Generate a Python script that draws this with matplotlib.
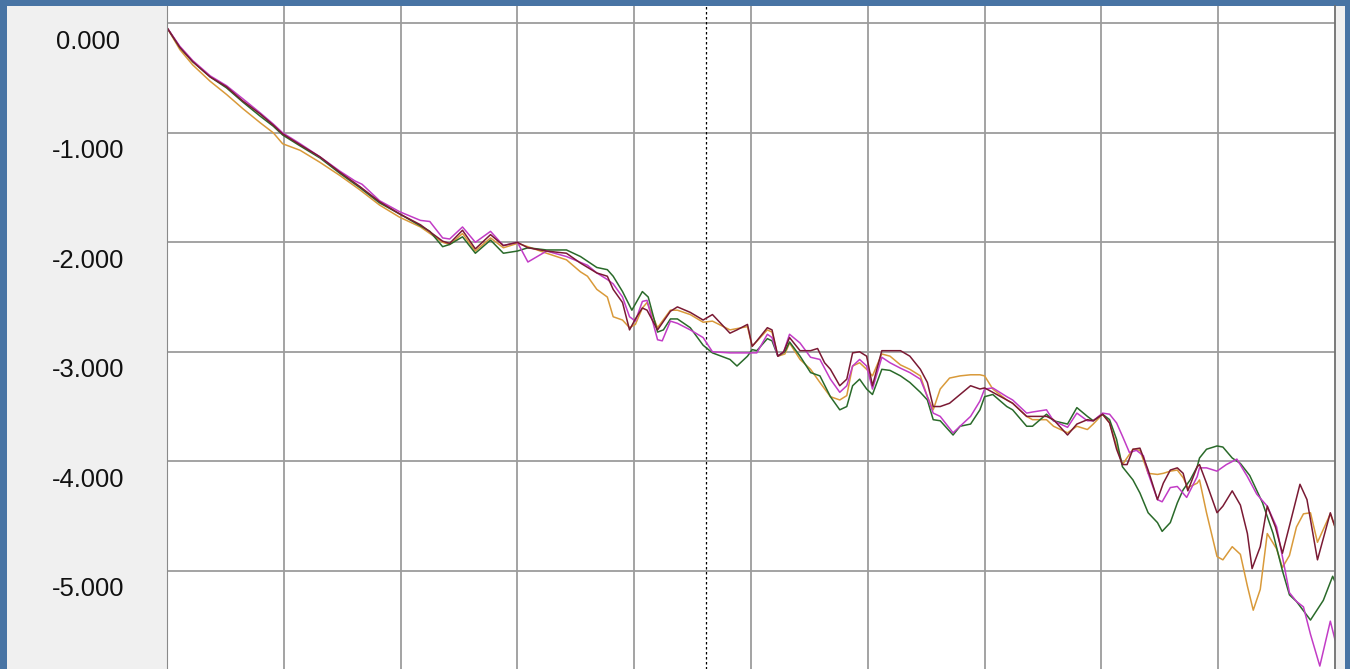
import matplotlib
matplotlib.use('Agg')
import matplotlib.pyplot as plt
from matplotlib.transforms import ScaledTranslation

# y ticks and their labels
y_ticks = [0, -1, -2, -3, -4, -5]
y_labels = ['0.000', '-1.000', '-2.000', '-3.000', '-4.000', '-5.000']
marker_x = 4.615  # dotted cursor line

# four traces, (x, y) pairs
green = [(0.00, -0.04), (0.11, -0.22), (0.22, -0.35), (0.37, -0.49), (0.51, -0.59), (0.65, -0.72),
         (0.80, -0.85), (0.91, -0.94), (0.99, -1.02), (1.14, -1.12), (1.31, -1.23), (1.48, -1.37),
         (1.65, -1.50), (1.82, -1.64), (1.99, -1.74), (2.17, -1.85), (2.25, -1.90), (2.36, -2.04),
         (2.42, -2.02), (2.53, -1.95), (2.64, -2.10), (2.77, -1.98), (2.88, -2.10), (3.00, -2.08),
         (3.09, -2.05), (3.25, -2.07), (3.42, -2.07), (3.54, -2.13), (3.68, -2.23), (3.77, -2.25),
         (3.82, -2.31), (3.90, -2.45), (3.98, -2.62), (4.07, -2.45), (4.12, -2.50), (4.20, -2.82),
         (4.25, -2.80), (4.31, -2.70), (4.37, -2.70), (4.48, -2.78), (4.59, -2.94), (4.67, -3.01),
         (4.82, -3.07), (4.88, -3.13), (4.97, -3.04), (5.01, -2.98), (5.05, -2.99), (5.14, -2.88),
         (5.18, -2.90), (5.23, -3.04), (5.29, -3.00), (5.33, -2.91), (5.42, -3.04), (5.51, -3.19),
         (5.59, -3.22), (5.68, -3.41), (5.76, -3.53), (5.82, -3.50), (5.87, -3.31), (5.93, -3.25),
         (5.99, -3.34), (6.04, -3.39), (6.12, -3.16), (6.19, -3.17), (6.28, -3.22), (6.36, -3.28),
         (6.45, -3.37), (6.51, -3.44), (6.56, -3.62), (6.62, -3.63), (6.73, -3.76), (6.79, -3.68),
         (6.88, -3.66), (6.96, -3.53), (7.00, -3.41), (7.07, -3.39), (7.19, -3.50), (7.24, -3.53),
         (7.36, -3.68), (7.41, -3.68), (7.53, -3.57), (7.59, -3.63), (7.71, -3.66), (7.79, -3.51),
         (7.88, -3.59), (7.93, -3.63), (8.01, -3.57), (8.07, -3.62), (8.13, -3.80), (8.18, -4.05),
         (8.27, -4.17), (8.33, -4.29), (8.40, -4.47), (8.48, -4.56), (8.52, -4.64), (8.59, -4.56),
         (8.65, -4.38), (8.70, -4.26), (8.76, -4.17), (8.82, -4.05), (8.84, -3.97), (8.90, -3.89),
         (8.99, -3.86), (9.04, -3.87), (9.12, -3.97), (9.19, -4.02), (9.27, -4.13), (9.38, -4.38),
         (9.47, -4.66), (9.55, -5.00), (9.61, -5.22), (9.67, -5.28), (9.79, -5.45), (9.90, -5.27),
         (9.98, -5.05), (10.0, -5.10)]

magenta = [(0.00, -0.04), (0.11, -0.21), (0.22, -0.34), (0.37, -0.48), (0.51, -0.57), (0.65, -0.69),
           (0.80, -0.82), (0.91, -0.92), (0.99, -1.00), (1.14, -1.10), (1.31, -1.22), (1.48, -1.35),
           (1.61, -1.44), (1.67, -1.47), (1.82, -1.62), (1.99, -1.72), (2.17, -1.80), (2.25, -1.81),
           (2.36, -1.96), (2.42, -1.97), (2.53, -1.86), (2.64, -2.00), (2.77, -1.90), (2.88, -2.03),
           (3.00, -2.00), (3.09, -2.18), (3.17, -2.13), (3.25, -2.08), (3.42, -2.13), (3.60, -2.21),
           (3.68, -2.28), (3.77, -2.34), (3.82, -2.38), (3.90, -2.50), (3.96, -2.68), (4.01, -2.72),
           (4.07, -2.54), (4.11, -2.53), (4.20, -2.89), (4.24, -2.90), (4.31, -2.72), (4.37, -2.74),
           (4.48, -2.80), (4.59, -2.87), (4.67, -3.00), (4.82, -3.01), (4.97, -3.01), (5.05, -3.01),
           (5.14, -2.84), (5.18, -2.87), (5.23, -3.04), (5.28, -3.00), (5.33, -2.84), (5.42, -2.92),
           (5.51, -3.05), (5.59, -3.07), (5.68, -3.25), (5.76, -3.37), (5.82, -3.31), (5.87, -3.13),
           (5.93, -3.07), (5.99, -3.13), (6.04, -3.34), (6.12, -3.05), (6.19, -3.10), (6.28, -3.15),
           (6.36, -3.19), (6.45, -3.25), (6.51, -3.41), (6.56, -3.56), (6.62, -3.59), (6.73, -3.74),
           (6.79, -3.68), (6.88, -3.59), (6.96, -3.45), (7.00, -3.34), (7.07, -3.33), (7.19, -3.41),
           (7.24, -3.44), (7.36, -3.56), (7.41, -3.55), (7.53, -3.53), (7.59, -3.63), (7.71, -3.69),
           (7.79, -3.56), (7.88, -3.63), (7.93, -3.63), (8.01, -3.56), (8.07, -3.57), (8.13, -3.65),
           (8.18, -3.77), (8.24, -3.92), (8.30, -3.90), (8.36, -3.95), (8.40, -4.11), (8.48, -4.35),
           (8.52, -4.37), (8.59, -4.24), (8.65, -4.23), (8.73, -4.33), (8.82, -4.14), (8.84, -4.06),
           (8.90, -4.06), (8.99, -4.09), (9.07, -4.03), (9.16, -3.98), (9.25, -4.14), (9.33, -4.30),
           (9.42, -4.41), (9.50, -4.60), (9.61, -5.20), (9.67, -5.28), (9.73, -5.33), (9.79, -5.58),
           (9.87, -5.87), (9.96, -5.46), (10.0, -5.63)]

red = [(0.00, -0.04), (0.11, -0.22), (0.22, -0.35), (0.37, -0.49), (0.51, -0.58), (0.65, -0.71),
       (0.80, -0.83), (0.91, -0.93), (0.99, -1.01), (1.14, -1.11), (1.31, -1.22), (1.48, -1.36),
       (1.65, -1.49), (1.82, -1.63), (1.99, -1.74), (2.17, -1.84), (2.36, -1.99), (2.42, -2.01),
       (2.53, -1.89), (2.64, -2.06), (2.77, -1.93), (2.88, -2.03), (3.00, -2.00), (3.09, -2.05),
       (3.25, -2.08), (3.42, -2.10), (3.54, -2.19), (3.68, -2.28), (3.77, -2.31), (3.82, -2.43),
       (3.90, -2.55), (3.96, -2.80), (4.01, -2.70), (4.07, -2.60), (4.11, -2.62), (4.20, -2.80),
       (4.31, -2.63), (4.37, -2.59), (4.48, -2.64), (4.59, -2.71), (4.67, -2.66), (4.82, -2.83),
       (4.88, -2.80), (4.97, -2.75), (5.01, -2.95), (5.05, -2.90), (5.14, -2.78), (5.18, -2.80),
       (5.23, -3.04), (5.28, -3.00), (5.33, -2.87), (5.42, -2.99), (5.51, -2.99), (5.57, -2.97),
       (5.63, -3.10), (5.68, -3.16), (5.76, -3.31), (5.82, -3.25), (5.87, -3.01), (5.93, -3.00),
       (5.99, -3.04), (6.04, -3.31), (6.12, -2.99), (6.19, -2.99), (6.28, -2.99), (6.36, -3.04),
       (6.45, -3.16), (6.51, -3.28), (6.56, -3.50), (6.62, -3.50), (6.70, -3.47), (6.79, -3.39),
       (6.88, -3.31), (6.96, -3.34), (7.00, -3.33), (7.07, -3.37), (7.19, -3.44), (7.24, -3.47),
       (7.36, -3.59), (7.41, -3.59), (7.53, -3.59), (7.59, -3.62), (7.71, -3.76), (7.79, -3.66),
       (7.88, -3.62), (7.93, -3.63), (8.01, -3.57), (8.07, -3.65), (8.13, -3.89), (8.18, -4.03),
       (8.22, -4.03), (8.27, -3.89), (8.33, -3.88), (8.40, -4.08), (8.48, -4.35), (8.53, -4.20),
       (8.59, -4.08), (8.65, -4.06), (8.70, -4.11), (8.74, -4.27), (8.82, -4.05), (8.84, -4.03),
       (8.90, -4.20), (8.99, -4.47), (9.04, -4.41), (9.12, -4.27), (9.19, -4.40), (9.25, -4.66),
       (9.29, -4.98), (9.36, -4.78), (9.42, -4.41), (9.49, -4.60), (9.55, -4.84), (9.61, -4.59),
       (9.70, -4.21), (9.76, -4.35), (9.85, -4.90), (9.96, -4.47), (10.0, -4.60)]

orange = [(0.00, -0.04), (0.11, -0.24), (0.22, -0.38), (0.37, -0.53), (0.51, -0.65), (0.65, -0.78),
          (0.80, -0.91), (0.91, -1.00), (0.99, -1.10), (1.14, -1.16), (1.31, -1.27), (1.48, -1.39),
          (1.65, -1.52), (1.82, -1.66), (1.99, -1.77), (2.17, -1.86), (2.36, -2.00), (2.42, -2.02),
          (2.53, -1.92), (2.64, -2.08), (2.77, -1.96), (2.88, -2.05), (3.00, -2.01), (3.09, -2.04),
          (3.25, -2.10), (3.42, -2.16), (3.54, -2.27), (3.60, -2.31), (3.68, -2.43), (3.77, -2.50),
          (3.82, -2.68), (3.90, -2.71), (3.96, -2.78), (4.01, -2.75), (4.07, -2.60), (4.11, -2.55),
          (4.20, -2.78), (4.31, -2.62), (4.37, -2.62), (4.48, -2.66), (4.59, -2.73), (4.67, -2.72),
          (4.82, -2.80), (4.97, -2.77), (5.01, -2.95), (5.14, -2.80), (5.18, -2.82), (5.23, -3.04),
          (5.29, -3.02), (5.33, -2.92), (5.42, -3.07), (5.51, -3.16), (5.59, -3.28), (5.68, -3.41),
          (5.76, -3.44), (5.82, -3.40), (5.87, -3.13), (5.93, -3.10), (5.99, -3.16), (6.04, -3.22),
          (6.12, -3.02), (6.19, -3.04), (6.28, -3.12), (6.36, -3.16), (6.45, -3.22), (6.51, -3.41),
          (6.56, -3.53), (6.62, -3.34), (6.70, -3.24), (6.79, -3.22), (6.88, -3.21), (6.96, -3.21),
          (7.00, -3.22), (7.07, -3.34), (7.19, -3.44), (7.24, -3.47), (7.36, -3.59), (7.41, -3.62),
          (7.53, -3.62), (7.59, -3.68), (7.71, -3.74), (7.79, -3.68), (7.88, -3.71), (7.93, -3.66),
          (8.01, -3.57), (8.07, -3.65), (8.13, -3.86), (8.18, -4.03), (8.27, -3.89), (8.33, -3.90),
          (8.40, -4.11), (8.48, -4.12), (8.53, -4.11), (8.59, -4.09), (8.65, -4.08), (8.70, -4.15),
          (8.74, -4.24), (8.82, -4.20), (8.84, -4.17), (8.90, -4.47), (8.99, -4.87), (9.04, -4.90),
          (9.12, -4.78), (9.19, -4.85), (9.25, -5.14), (9.30, -5.36), (9.36, -5.17), (9.42, -4.66),
          (9.50, -4.80), (9.55, -4.97), (9.61, -4.86), (9.67, -4.60), (9.73, -4.48), (9.79, -4.47),
          (9.85, -4.74), (9.96, -4.48), (10.0, -4.60)]

W, H = 1350, 669
fig = plt.figure(figsize=(W / 100, H / 100), dpi=100)
fig.patch.set_facecolor('#4874a4')

# light grey window background (left label panel + right strip)
panel = fig.add_axes([7 / W, 0, (1345 - 7) / W, (H - 6) / H])
panel.set_facecolor('#f0f0f0')
panel.set_xticks([])
panel.set_yticks([])
for s in panel.spines.values():
    s.set_visible(False)

ax = fig.add_axes([167 / W, 0, (1335 - 167) / W, (H - 6) / H])
ax.set_facecolor('white')
ax.set_xlim(0, 10)
ax.set_ylim(-5.897, 0.158)
ax.set_xticks(range(1, 10))
ax.set_yticks(y_ticks)
ax.set_yticklabels(y_labels, fontsize=18.4, family='Liberation Sans', color='#111111')
ax.tick_params(length=0, labelbottom=False)
ax.tick_params(axis='y', pad=57)
off = ScaledTranslation(0, -0.16, fig.dpi_scale_trans)
for lab in ax.get_yticklabels():
    lab.set_ha('center')
    lab.set_transform(lab.get_transform() + off)
ax.set_axisbelow(True)
ax.grid(color='#9c9c9c', lw=1.3)
for side in ['top', 'bottom']:
    ax.spines[side].set_visible(False)
ax.spines['left'].set_color('#8a8a8a')
ax.spines['right'].set_color('#707070')
ax.spines['right'].set_linewidth(1.3)

ax.axvline(marker_x, color='black', ls=(0, (2, 2)), lw=0.9)

for data, col in [(orange, '#d99a3a'), (green, '#2a6a2a'), (magenta, '#c23cc6'), (red, '#7a1a34')]:
    xs, ys = zip(*data)
    ax.plot(xs, ys, color=col, lw=1.1)

fig.savefig('out.png', dpi=100, facecolor=fig.get_facecolor())
